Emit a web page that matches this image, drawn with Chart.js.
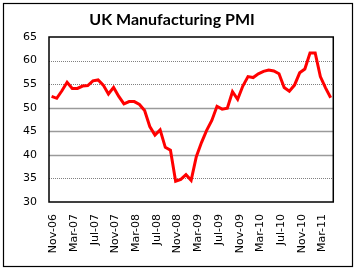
<!DOCTYPE html>
<html>
<head>
<meta charset="utf-8">
<script src="https://cdn.jsdelivr.net/npm/chart.js@4/dist/chart.umd.min.js"></script>
<style>
  html, body { margin: 0; padding: 0; background: #fff; }
  #wrap { width: 356px; height: 269px; }
</style>
</head>
<body>
<div id="wrap"><canvas id="pmiChart"></canvas></div>
<script>
// UK Manufacturing PMI, monthly
const months = [
  "Nov-06","Dec-06","Jan-07","Feb-07","Mar-07","Apr-07","May-07","Jun-07","Jul-07","Aug-07","Sep-07","Oct-07",
  "Nov-07","Dec-07","Jan-08","Feb-08","Mar-08","Apr-08","May-08","Jun-08","Jul-08","Aug-08","Sep-08","Oct-08",
  "Nov-08","Dec-08","Jan-09","Feb-09","Mar-09","Apr-09","May-09","Jun-09","Jul-09","Aug-09","Sep-09","Oct-09",
  "Nov-09","Dec-09","Jan-10","Feb-10","Mar-10","Apr-10","May-10","Jun-10","Jul-10","Aug-10","Sep-10","Oct-10",
  "Nov-10","Dec-10","Jan-11","Feb-11","Mar-11","Apr-11","May-11"
];
const pmi = [
  52.4, 52.0, 53.6, 55.4, 54.1, 54.1, 54.6, 54.7, 55.7, 55.9, 54.8, 52.9,
  54.3, 52.4, 50.8, 51.3, 51.3, 50.7, 49.4, 46.0, 44.2, 45.3, 41.6, 41.0,
  34.4, 34.8, 35.8, 34.6, 39.6, 42.6, 45.2, 47.3, 50.3, 49.7, 49.9, 53.4,
  51.8, 54.6, 56.6, 56.4, 57.2, 57.7, 58.0, 57.8, 57.2, 54.3, 53.5, 54.8,
  57.4, 58.2, 61.6, 61.6, 56.6, 54.2, 52.1
];
const yTicks = [30, 35, 40, 45, 50, 55, 60, 65];
const dottedAt = [35, 55, 60];

// gridlines (mixed solid / dotted), plot frame and outer frame
const framePlugin = {
  id: "frames",
  beforeDatasetsDraw(chart) {
    const { ctx, chartArea: a, scales: { y } } = chart;
    ctx.save();
    yTicks.forEach(v => {
      if (v === 30 || v === 65) return;
      const py = Math.round(y.getPixelForValue(v)) + 0.5;
      ctx.beginPath();
      if (dottedAt.includes(v)) {
        ctx.setLineDash([1, 1]);
        ctx.strokeStyle = "#808080";
        ctx.lineWidth = 1;
      } else {
        ctx.setLineDash([]);
        ctx.strokeStyle = "#9a9a9a";
        ctx.lineWidth = 1.5;
      }
      ctx.moveTo(a.left, py);
      ctx.lineTo(a.right, py);
      ctx.stroke();
    });
    ctx.restore();
  },
  afterDraw(chart) {
    const { ctx, chartArea: a } = chart;
    ctx.save();
    ctx.setLineDash([]);
    ctx.strokeStyle = "#000";
    ctx.lineWidth = 1.5;
    ctx.strokeRect(a.left, a.top, a.right - a.left, a.bottom - a.top);
    ctx.lineWidth = 1.2;
    ctx.strokeRect(3.5, 3.5, 349, 263);
    ctx.restore();
  }
};

new Chart(document.getElementById("pmiChart"), {
  type: "line",
  data: {
    labels: months,
    datasets: [{
      label: "UK Manufacturing PMI",
      data: pmi,
      borderColor: "#ff0000",
      borderWidth: 3,
      pointRadius: 0,
      tension: 0,
      fill: false
    }]
  },
  options: {
    responsive: true,
    maintainAspectRatio: false,
    animation: false,
    layout: { padding: { left: 0, right: 12, top: 0, bottom: 0 } },
    plugins: {
      legend: { display: false },
      tooltip: { enabled: false },
      title: {
        display: true,
        text: "UK Manufacturing PMI",
        color: "#000",
        font: { family: "Lato", size: 16, weight: "bold", lineHeight: 1.2 },
        padding: { top: 10, bottom: 7.8 }
      }
    },
    scales: {
      x: {
        type: "category",
        offset: true,
        grid: { display: false, drawTicks: false },
        border: { display: false },
        ticks: {
          autoSkip: false,
          maxRotation: 90,
          minRotation: 90,
          padding: 12,
          labelOffset: 2,
          color: "#000",
          font: { family: "DejaVu Sans", size: 11 },
          callback: (v, i) => (i % 4 === 0 ? months[i] : "")
        },
        afterFit: s => { s.height = 67; }
      },
      y: {
        min: 30,
        max: 65,
        grid: { display: false, drawTicks: false },
        border: { display: false },
        ticks: {
          stepSize: 5,
          padding: 12,
          color: "#000",
          font: { family: "DejaVu Sans", size: 11 }
        },
        afterFit: s => { s.width = 49; }
      }
    }
  },
  plugins: [framePlugin]
});
</script>
</body>
</html>
